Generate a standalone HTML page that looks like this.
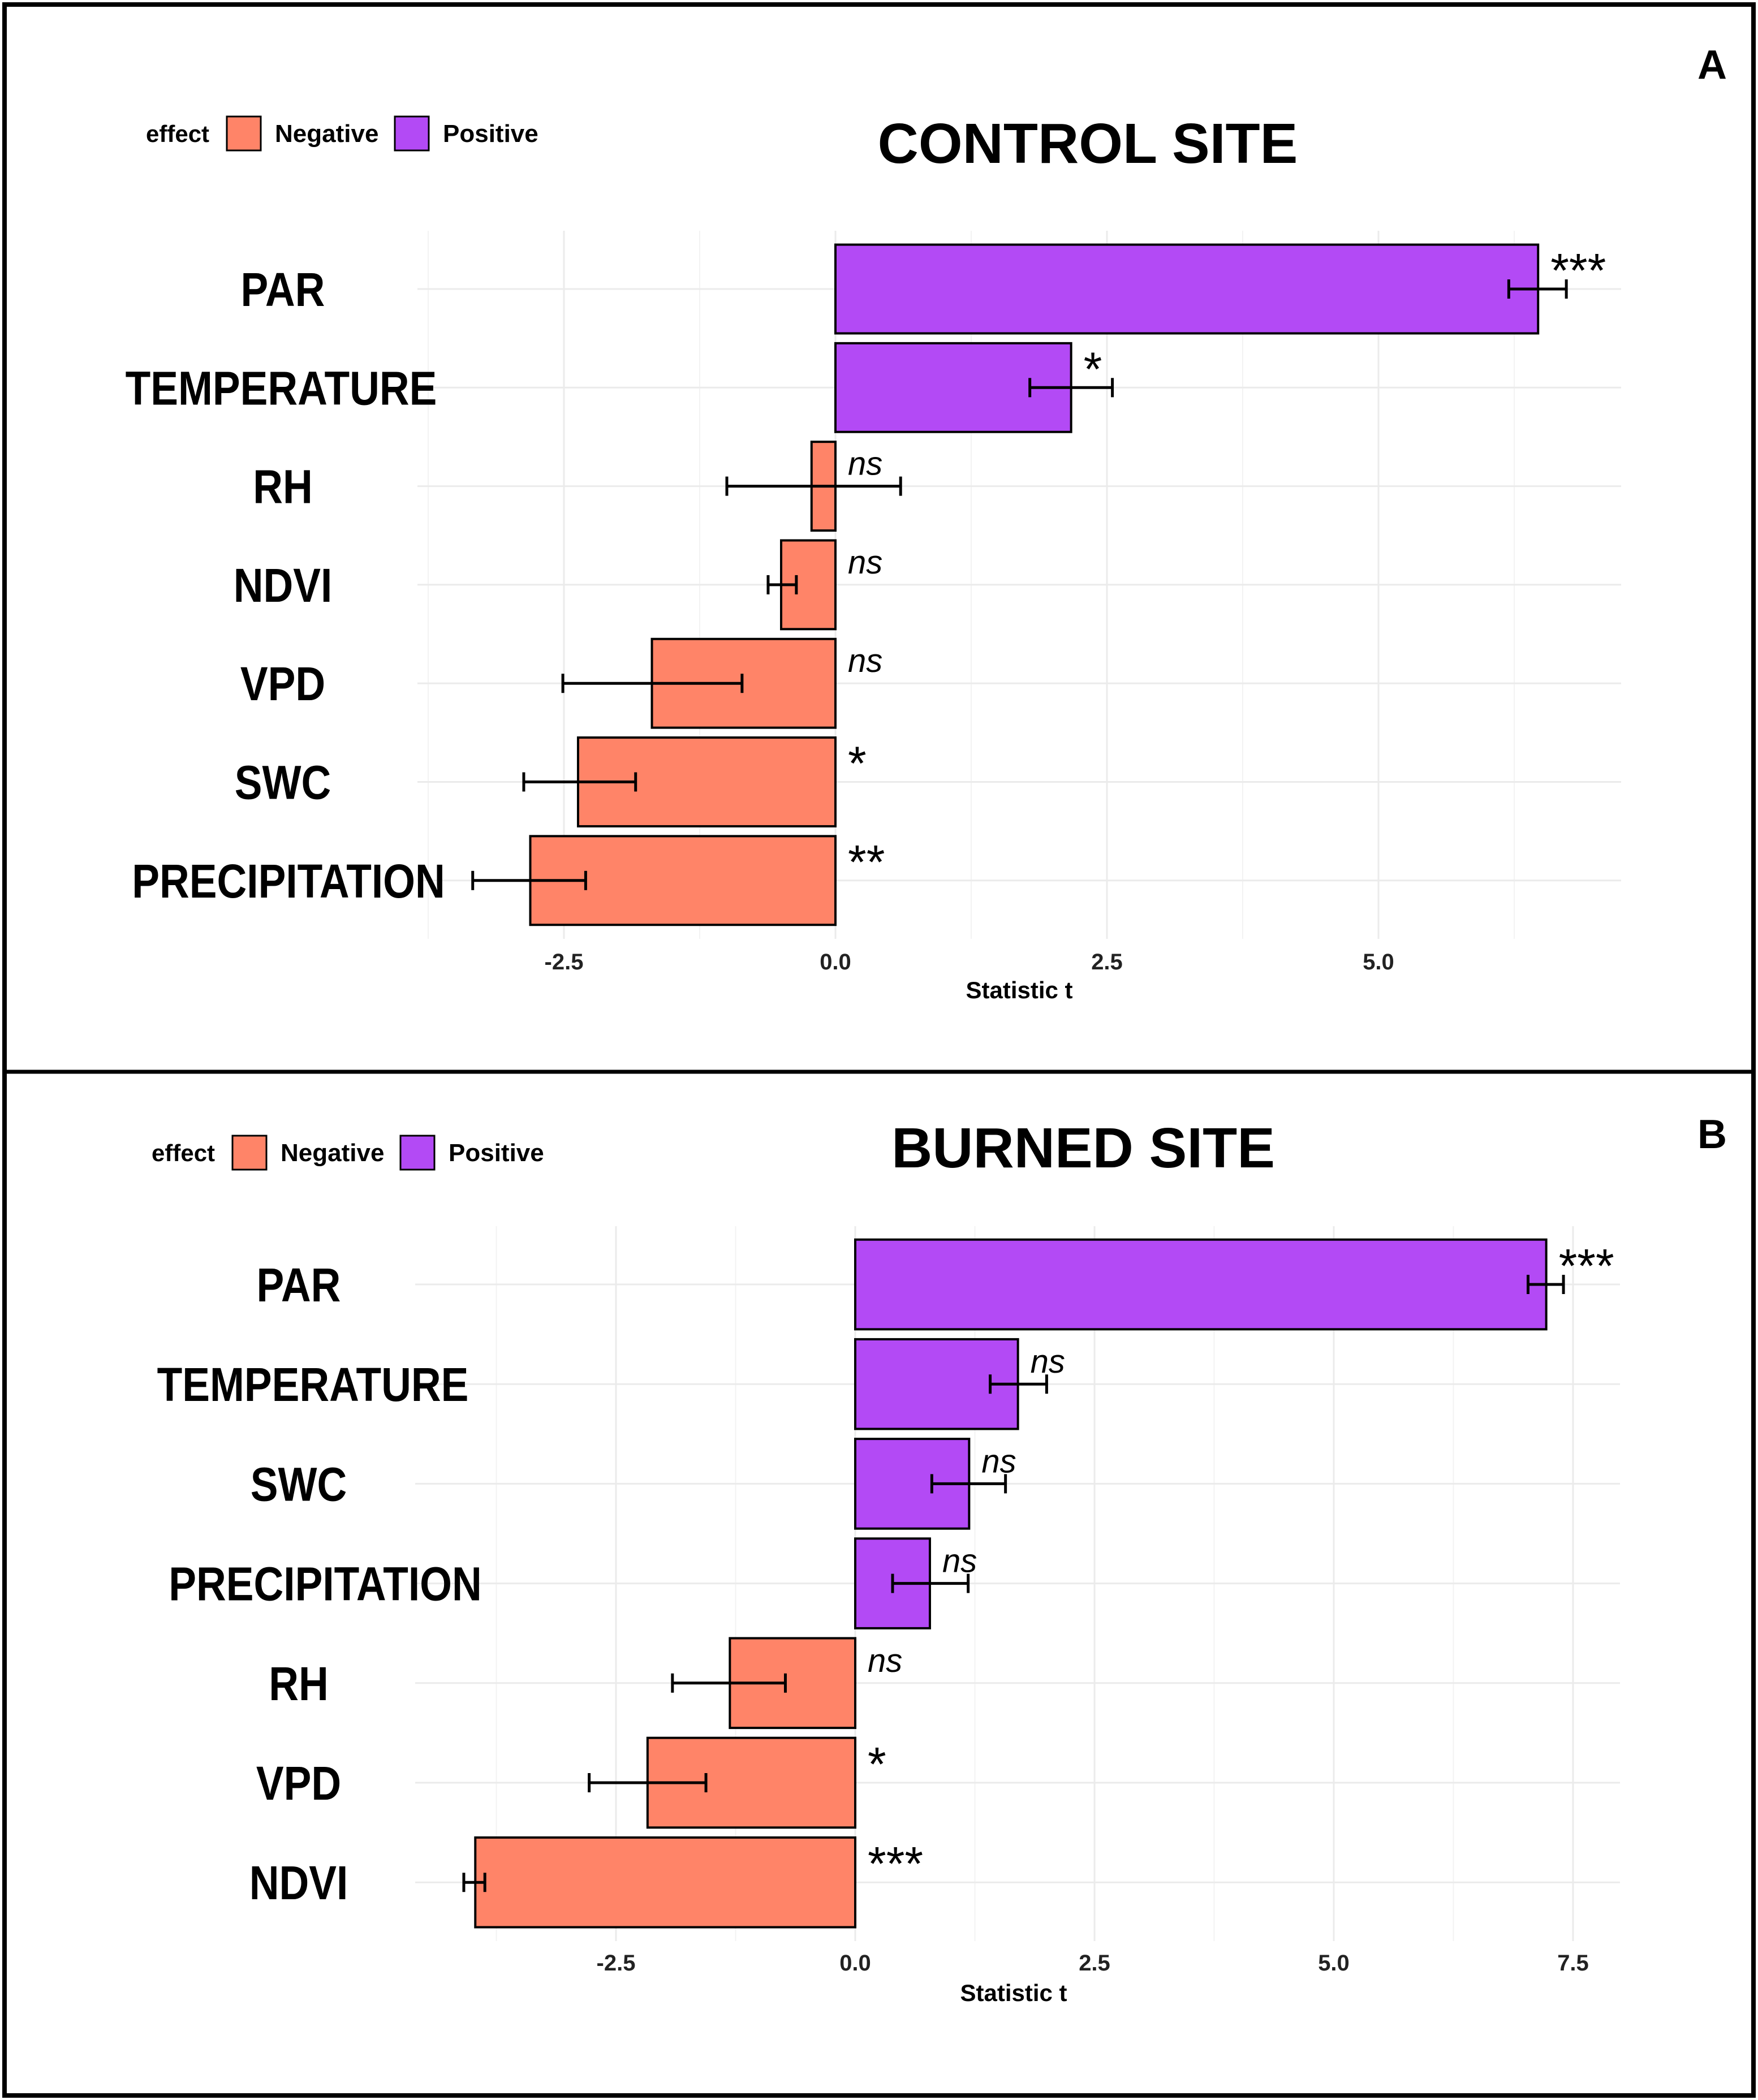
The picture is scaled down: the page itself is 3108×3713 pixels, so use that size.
<!DOCTYPE html>
<html><head><meta charset="utf-8">
<style>
html,body{margin:0;padding:0;background:#fff;}
svg{display:block;font-family:"Liberation Sans",Arial,sans-serif;}
</style></head>
<body>
<svg id="fig" width="3108" height="3713" viewBox="0 0 3108 3713" xmlns="http://www.w3.org/2000/svg">
<rect x="0" y="0" width="3108" height="3713" fill="#fff"/>
<rect x="8" y="8" width="3092" height="3697" fill="none" stroke="#000" stroke-width="8"/>
<line x1="8" y1="1895" x2="3100" y2="1895" stroke="#000" stroke-width="7"/>
<g id="pA"></g>
<g id="pB"></g>
</svg>
<script>
// Panel A: Control site
const catsA = ["PAR","TEMPERATURE","RH","NDVI","VPD","SWC","PRECIPITATION"];
const valsA = [6.47, 2.17, -0.22, -0.50, -1.69, -2.37, -2.81];
const loA = [6.20, 1.79, -1.00, -0.62, -2.51, -2.87, -3.34];
const hiA = [6.73, 2.55, 0.60, -0.36, -0.86, -1.84, -2.30];
const sigA = ["***","*","ns","ns","ns","*","**"];
const ticksA = [-2.5, 0.0, 2.5, 5.0];
const tickLabelsA = ["-2.5","0.0","2.5","5.0"];
const minorA = [-3.75, -1.25, 1.25, 3.75, 6.25];

// Panel B: Burned site
const catsB = ["PAR","TEMPERATURE","SWC","PRECIPITATION","RH","VPD","NDVI"];
const valsB = [7.22, 1.70, 1.19, 0.78, -1.31, -2.17, -3.97];
const loB = [7.03, 1.41, 0.80, 0.39, -1.91, -2.78, -4.09];
const hiB = [7.40, 2.00, 1.57, 1.18, -0.73, -1.56, -3.87];
const sigB = ["***","ns","ns","ns","ns","*","***"];
const ticksB = [-2.5, 0.0, 2.5, 5.0, 7.5];
const tickLabelsB = ["-2.5","0.0","2.5","5.0","7.5"];
const minorB = [-3.75, -1.25, 1.25, 3.75, 6.25];

const NS = "http://www.w3.org/2000/svg";
function mk(parent, tag, attrs, txt){
  const e = document.createElementNS(NS, tag);
  for (const k in attrs) e.setAttribute(k, attrs[k]);
  if (txt !== undefined) e.textContent = txt;
  parent.appendChild(e);
  return e;
}

function drawPanel(g, cfg, cats, vals, lo, hi, sig, ticks, tickLabels, minor){
  const xs = v => cfg.x0 + v * cfg.ppu;
  const ys = i => cfg.yc0 + i * cfg.step;
  const bh = cfg.step * 0.9;
  const grid = mk(g, "g", {});
  
  
  minor.forEach(v => {
    const l = mk(grid, "line", {x1:xs(v), x2:xs(v), y1:cfg.gTop, y2:cfg.gBot, stroke:"#f3f3f3", "stroke-width":2});
    
    
  });
  ticks.forEach(v => {
    const l = mk(grid, "line", {x1:xs(v), x2:xs(v), y1:cfg.gTop, y2:cfg.gBot, stroke:"#ebebeb", "stroke-width":3});
    
    
  });
  cats.forEach((c, i) => {
    const l = mk(grid, "line", {x1:cfg.gL, x2:cfg.gR, y1:ys(i), y2:ys(i), stroke:"#ebebeb", "stroke-width":3});
    
    
  });
  cats.forEach((c, i) => {
    const v = vals[i];
    const x1 = Math.min(xs(0), xs(v)), w = Math.abs(xs(v) - xs(0));
    const r = mk(g, "rect", {x:x1, y:ys(i) - bh/2, width:w, height:bh,
      fill: v >= 0 ? "#B34AF5" : "#FF8468", stroke:"#000", "stroke-width":4});
    
    
    const eb = mk(g, "g", {stroke:"#000", "stroke-width":5});
    
    
    mk(eb, "line", {x1:xs(lo[i]), x2:xs(hi[i]), y1:ys(i), y2:ys(i)});
    mk(eb, "line", {x1:xs(lo[i]), x2:xs(lo[i]), y1:ys(i)-17, y2:ys(i)+17});
    mk(eb, "line", {x1:xs(hi[i]), x2:xs(hi[i]), y1:ys(i)-17, y2:ys(i)+17});
    const s = sig[i];
    const sx = Math.max(xs(Math.max(v, 0)), xs(0)) + 22;
    const t = mk(g, "text", {x:sx, y: s === "ns" ? ys(i) - 20 : ys(i) - 4,
      "font-size": s === "ns" ? 58 : 84, "font-style": s === "ns" ? "italic" : "normal", fill:"#000"}, s);
    
    
    const off = cfg.labOff[c] || 0;
    const lt = mk(g, "text", {x:cfg.labX + off, y:ys(i) + 30, "font-size":84, "font-weight":"bold",
      "text-anchor":"middle", fill:"#000"}, c);
    
    
    const nat = lt.getComputedTextLength();
    if (nat > 0) {
      lt.setAttribute("textLength", nat * 0.87);
      lt.setAttribute("lengthAdjust", "spacingAndGlyphs");
    }
  });
  ticks.forEach((v, k) => {
    const t = mk(g, "text", {x:xs(v), y:cfg.tickY, "font-size":40, "font-weight":"bold",
      "text-anchor":"middle", fill:"#222"}, tickLabels[k]);
    
    
  });
  const xt = mk(g, "text", {x:cfg.xtX, y:cfg.xtY, "font-size":42, "font-weight":"bold", "text-anchor":"middle", fill:"#000"}, "Statistic t");
  
  
  const ti = mk(g, "text", {x:cfg.titleX, y:cfg.titleY, "font-size":100, "font-weight":"bold", "text-anchor":"middle", fill:"#000"}, cfg.title);
  
  
  const pl = mk(g, "text", {x:3027, y:cfg.letterY, "font-size":72, "font-weight":"bold", "text-anchor":"middle", fill:"#000"}, cfg.letter);
  
  
  const lg = mk(g, "g", {});
  
  
  const L = cfg.leg;
  const e1 = mk(lg, "text", {x:L.x, y:L.y + 15, "font-size":42, "font-weight":"bold", fill:"#000"}, "effect");
  
  
  const s1 = mk(lg, "rect", {x:L.x + 143, y:L.y - 30, width:60, height:60, fill:"#FF8468", stroke:"#000", "stroke-width":3});
  
  
  const t1 = mk(lg, "text", {x:L.x + 228, y:L.y + 15, "font-size":44, "font-weight":"bold", fill:"#000"}, "Negative");
  
  
  const s2 = mk(lg, "rect", {x:L.x + 440, y:L.y - 30, width:60, height:60, fill:"#B34AF5", stroke:"#000", "stroke-width":3});
  
  
  const t2 = mk(lg, "text", {x:L.x + 525, y:L.y + 15, "font-size":44, "font-weight":"bold", fill:"#000"}, "Positive");
  
  
}

drawPanel(document.getElementById("pA"),
  {x0:1477, ppu:192, yc0:511, step:174.3, gTop:408, gBot:1660, gL:738, gR:2866,
   labX:500, labOff:{TEMPERATURE:-3, PRECIPITATION:10}, tickY:1714, xtX:1802, xtY:1765, title:"CONTROL SITE", titleX:1923, titleY:288,
   letter:"A", letterY:139, leg:{x:258, y:236}},
  catsA, valsA, loA, hiA, sigA, ticksA, tickLabelsA, minorA);

drawPanel(document.getElementById("pB"),
  {x0:1512, ppu:169.2, yc0:2271, step:176.2, gTop:2168, gBot:3432, gL:734, gR:2864,
   labX:528, labOff:{TEMPERATURE:25, PRECIPITATION:47}, tickY:3484, xtX:1792, xtY:3538, title:"BURNED SITE", titleX:1915, titleY:2064,
   letter:"B", letterY:2030, leg:{x:268, y:2038}},
  catsB, valsB, loB, hiB, sigB, ticksB, tickLabelsB, minorB);
</script>
</body></html>
